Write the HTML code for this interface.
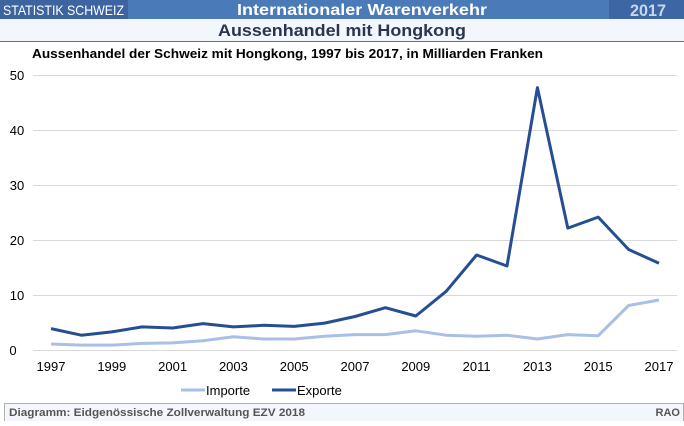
<!DOCTYPE html>
<html><head><meta charset="utf-8"><style>
body{margin:0;width:684px;height:421px;background:#fff;overflow:hidden;font-family:"Liberation Sans",Arial,sans-serif}
</style></head><body>
<svg width="684" height="421" xmlns="http://www.w3.org/2000/svg" font-family="Liberation Sans, Arial, sans-serif">
<rect x="0" y="0" width="684" height="19" fill="#4a7ab8"/>
<rect x="0" y="0" width="128" height="19" fill="#3d64a0"/>
<rect x="609" y="0" width="75" height="19" fill="#3d67a4"/>
<text x="3" y="15" font-size="14" fill="#fff" textLength="121" lengthAdjust="spacingAndGlyphs">STATISTIK SCHWEIZ</text>
<text x="237" y="15" font-size="16" font-weight="bold" fill="#fff" textLength="250" lengthAdjust="spacingAndGlyphs">Internationaler Warenverkehr</text>
<text x="630" y="16" font-size="17" font-weight="bold" fill="#c7d6ec" textLength="36" lengthAdjust="spacingAndGlyphs">2017</text>
<rect x="0" y="19" width="684" height="22" fill="#f3f6fc"/>
<line x1="0" y1="41.5" x2="684" y2="41.5" stroke="#6a7280" stroke-width="1"/>
<text x="218" y="36" font-size="17" font-weight="bold" fill="#2a3550" textLength="248" lengthAdjust="spacingAndGlyphs">Aussenhandel mit Hongkong</text>
<text x="32" y="58" font-size="13" font-weight="bold" fill="#000" textLength="511" lengthAdjust="spacingAndGlyphs">Aussenhandel der Schweiz mit Hongkong, 1997 bis 2017, in Milliarden Franken</text>
<g stroke="#d9d9d9" stroke-width="1">
<line x1="33" y1="75.5" x2="677" y2="75.5"/><line x1="33" y1="130.5" x2="677" y2="130.5"/>
<line x1="33" y1="185.5" x2="677" y2="185.5"/><line x1="33" y1="240.5" x2="677" y2="240.5"/>
<line x1="33" y1="295.5" x2="677" y2="295.5"/><line x1="33" y1="350.5" x2="677" y2="350.5"/>
</g>
<g font-size="13" fill="#000" text-anchor="middle">
<text x="17" y="80">50</text><text x="17" y="135">40</text><text x="17" y="190">30</text>
<text x="17" y="245">20</text><text x="17" y="300">10</text><text x="13" y="355">0</text>
<text x="51" y="371">1997</text><text x="111.8" y="371">1999</text><text x="172.6" y="371">2001</text>
<text x="233.4" y="371">2003</text><text x="294.2" y="371">2005</text><text x="355" y="371">2007</text>
<text x="415.8" y="371">2009</text><text x="476.6" y="371">2011</text><text x="537.4" y="371">2013</text>
<text x="598.2" y="371">2015</text><text x="659" y="371">2017</text>
</g>
<polyline fill="none" stroke="#a9bfe6" stroke-width="3" stroke-linejoin="round" points="51,344 81.4,345.1 111.8,345.1 142.2,343.4 172.6,342.9 203,340.7 233.4,336.8 263.8,339 294.2,339 324.6,336.3 355,334.6 385.4,334.6 415.8,330.8 446.2,335.2 476.6,336.3 507,335.2 537.4,339 567.8,334.6 598.2,335.7 628.6,305.5 659,300"/>
<polyline fill="none" stroke="#254f92" stroke-width="3" stroke-linejoin="round" points="51,328.6 81.4,335.2 111.8,331.9 142.2,326.9 172.6,328 203,323.6 233.4,326.9 263.8,325.3 294.2,326.4 324.6,323.1 355,316.5 385.4,307.7 415.8,316 446.2,291.3 476.6,255 507,266 537.4,87.6 567.8,228.1 598.2,217.1 628.6,249.5 659,263.3"/>
<line x1="181" y1="390" x2="205" y2="390" stroke="#a9bfe6" stroke-width="3"/>
<text x="206" y="395" font-size="13">Importe</text>
<line x1="272" y1="390" x2="296" y2="390" stroke="#254f92" stroke-width="3"/>
<text x="297" y="395" font-size="13">Exporte</text>
<rect x="4.5" y="403.5" width="679" height="18" fill="#f3f6fc" stroke="#b0b0b0"/>
<text x="9" y="416" font-size="11" font-weight="bold" fill="#555" textLength="296" lengthAdjust="spacingAndGlyphs">Diagramm: Eidgenössische Zollverwaltung EZV 2018</text>
<text x="680" y="416" font-size="11" font-weight="bold" fill="#555" text-anchor="end">RAO</text>
</svg>
</body></html>
